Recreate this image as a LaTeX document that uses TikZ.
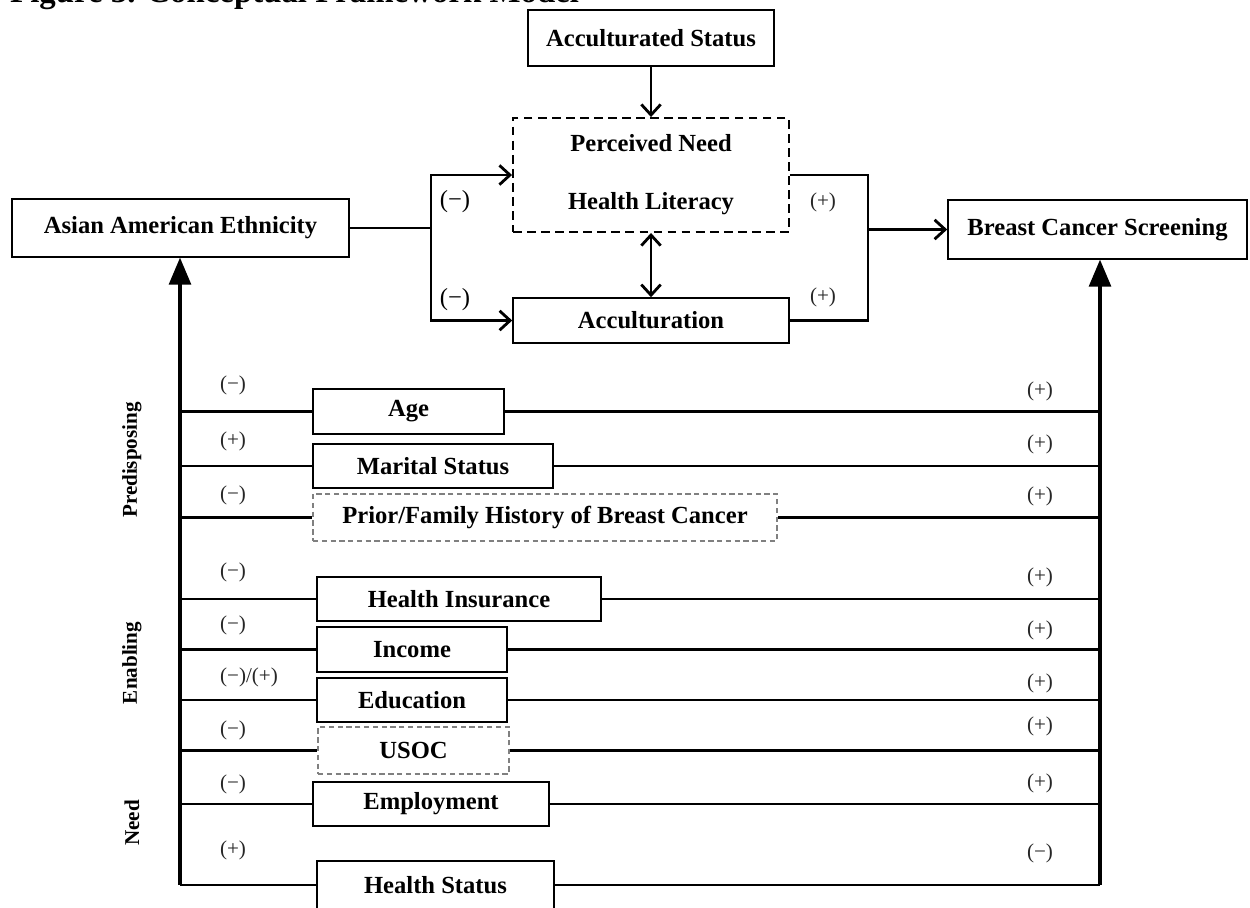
\documentclass[tikz,border=0pt]{standalone}
\usepackage{fontspec}
\setmainfont{Liberation Serif}
\usetikzlibrary{arrows,arrows.meta}
\tikzset{box/.style={draw, line width=0.9pt, fill=white, inner sep=0pt, font=\bfseries\fontsize{14}{16}\selectfont}}
\tikzset{faintbox/.style={box, draw=gray, dash pattern=on 3pt off 2pt}}
\tikzset{wh/.style 2 args={minimum width=#1*0.02cm, minimum height=#2*0.02cm}}
\tikzset{link/.style={line width=1.6pt}}
\tikzset{barb/.style={link, -{Straight Barb[length=6pt, width=11pt]}}}
\tikzset{spine/.style={line width=2.6pt, -triangle 45}}
\tikzset{sign/.style={text=black!85, font=\fontsize{12}{14}\selectfont}}
\tikzset{group/.style={rotate=90, font=\bfseries\fontsize{12}{14}\selectfont}}

\begin{document}
\begin{tikzpicture}[x=0.02cm, y=-0.02cm]
    \useasboundingbox (0, 0) rectangle (1250, 907);
    \node [anchor=base west, font=\bfseries\fontsize{18.7}{20}\selectfont] (title) at (4, 2) {Figure 3. Conceptual Framework Model};
    % upper part
    \node [box, wh={246}{56}] (accst) at (651, 38) {Acculturated Status};
    \node [box, wh={276}{114}, align=center, line width=1.1pt, dash pattern=on 5pt off 3pt] (pn) at (651, 175) {Perceived Need\\[17pt]Health Literacy};
    \node [box, wh={276}{45}] (acc) at (651, 320.5) {Acculturation};
    \node [box, wh={337}{58}] (asian) at (180.5, 228) {Asian American Ethnicity};
    \node [box, wh={299}{59}] (bcs) at (1097.5, 229.5) {Breast Cancer Screening};
    \coordinate (lsplit) at (431, 228);
    \coordinate (rsplit) at (868, 229.5);
    \draw [barb] (accst) -- (pn);
    \draw [link, {Straight Barb[length=6pt, width=11pt]}-{Straight Barb[length=6pt, width=11pt]}] (pn) -- (acc);
    \draw [link] (asian.east) -- (lsplit);
    \draw [barb] (lsplit) |- (pn.west);
    \draw [barb] (lsplit) |- (acc.west);
    \draw [link] (pn.east) -| (rsplit) |- (acc.east);
    \draw [barb] (rsplit) -- (bcs.west);
    \node [sign, font=\fontsize{14}{16}\selectfont, text=black] (m1) at (455, 202) {(−)};
    \node [sign, font=\fontsize{14}{16}\selectfont, text=black] (m2) at (455, 300) {(−)};
    \node [sign] (p1) at (823, 202) {(+)};
    \node [sign] (p2) at (823, 297) {(+)};
    % factors
    \node [box, wh={191}{45}] (age) at (408.5, 411.5) {Age};
    \node [box, wh={240}{44}] (marital) at (433, 466) {Marital Status};
    \node [faintbox, wh={464}{47}] (prior) at (545, 517.5) {Prior/Family History of Breast Cancer};
    \node [box, wh={284}{44}] (insur) at (459, 599) {Health Insurance};
    \node [box, wh={190}{45}] (income) at (412, 649.5) {Income};
    \node [box, wh={190}{44}] (educ) at (412, 700) {Education};
    \node [faintbox, wh={191}{47}] (usoc) at (413.5, 750.5) {USOC};
    \node [box, wh={236}{44}] (employ) at (431, 804) {Employment};
    \node [box, wh={237}{48}] (hstat) at (435.5, 885) {Health Status};
    \coordinate (lbar) at (180, 885);
    \coordinate (rbar) at (1100, 885);
    \draw [link] (lbar |- age.west) -- (age.west) (age.east) -- (rbar |- age.east);
    \draw [link] (lbar |- marital.west) -- (marital.west) (marital.east) -- (rbar |- marital.east);
    \draw [link] (lbar |- prior.west) -- (prior.west) (prior.east) -- (rbar |- prior.east);
    \draw [link] (lbar |- insur.west) -- (insur.west) (insur.east) -- (rbar |- insur.east);
    \draw [link] (lbar |- income.west) -- (income.west) (income.east) -- (rbar |- income.east);
    \draw [link] (lbar |- educ.west) -- (educ.west) (educ.east) -- (rbar |- educ.east);
    \draw [link] (lbar |- usoc.west) -- (usoc.west) (usoc.east) -- (rbar |- usoc.east);
    \draw [link] (lbar |- employ.west) -- (employ.west) (employ.east) -- (rbar |- employ.east);
    \draw [link] (lbar) -- (hstat.west) (hstat.east) -- (rbar);
    \draw [spine] (lbar) -- (lbar |- asian.south);
    \draw [spine] (rbar) -- (rbar |- bcs.south);
    % signs of the factors
    \node [sign] (la) at (233, 385) {(−)};
    \node [sign] (lm) at (233, 441) {(+)};
    \node [sign] (lp) at (233, 495) {(−)};
    \node [sign] (li) at (233, 572) {(−)};
    \node [sign] (ln) at (233, 625) {(−)};
    \node [sign] (le) at (249, 677) {(−)/(+)};
    \node [sign] (lu) at (233, 730) {(−)};
    \node [sign] (lw) at (233, 784) {(−)};
    \node [sign] (lh) at (233, 850) {(+)};
    \node [sign] (ra) at (1040, 391) {(+)};
    \node [sign] (rm) at (1040, 444) {(+)};
    \node [sign] (rp) at (1040, 496) {(+)};
    \node [sign] (ri) at (1040, 577) {(+)};
    \node [sign] (rn) at (1040, 630) {(+)};
    \node [sign] (re) at (1040, 683) {(+)};
    \node [sign] (ru) at (1040, 726) {(+)};
    \node [sign] (rw) at (1040, 783) {(+)};
    \node [sign] (rh) at (1040, 853) {(−)};
    \node [group] (gpre) at (132, 460) {Predisposing};
    \node [group] (gena) at (132, 663) {Enabling};
    \node [group] (gneed) at (132, 823) {Need};
\end{tikzpicture}
\end{document}
